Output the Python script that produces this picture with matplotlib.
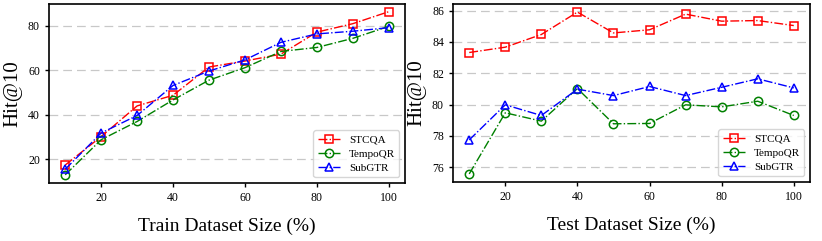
import numpy as np
import matplotlib.pyplot as plt

plt.rcParams['font.family'] = ['Liberation Serif', 'DejaVu Serif']

sizes = [10, 20, 30, 40, 50, 60, 70, 80, 90, 100]

# train dataset size experiment
train_stcqa = [17.4, 30.2, 44.0, 48.8, 61.5, 64.2, 67.3, 77.2, 81.0, 86.4]
train_tempoqr = [13.0, 28.8, 37.0, 46.7, 55.6, 61.2, 68.5, 70.3, 74.4, 79.8]
train_subgtr = [15.5, 31.8, 39.7, 53.2, 59.7, 64.7, 72.6, 76.4, 77.6, 79.2]

# test dataset size experiment
test_stcqa = [83.32, 83.66, 84.47, 85.90, 84.57, 84.77, 85.77, 85.32, 85.36, 85.04]
test_tempoqr = [75.57, 79.47, 78.94, 81.02, 78.77, 78.79, 79.98, 79.85, 80.21, 79.30]
test_subgtr = [77.74, 79.98, 79.30, 80.98, 80.57, 81.15, 80.57, 81.10, 81.64, 81.06]

W, H = 822, 241
fig = plt.figure(figsize=(W / 100, H / 100), dpi=100)
ax1 = fig.add_axes([49 / W, 1 - 183 / H, 356 / W, 179.5 / H])
ax2 = fig.add_axes([453 / W, 1 - 182 / H, 357 / W, 178 / H])

def draw(ax, s, t, g, xlabel):
    kw = dict(linestyle='-.', mfc='none', markersize=6, linewidth=1, markeredgewidth=1.1)
    ax.plot(sizes, s, color='red', marker='s', label='STCQA', **kw)
    ax.plot(sizes, t, color='green', marker='o', label='TempoQR', **kw)
    ax.plot(sizes, g, color='blue', marker='^', label='SubGTR', **kw)
    ax.grid(axis='y', color='#c8c8c8', linewidth=0.9, dashes=(7, 4))
    ax.set_axisbelow(True)
    ax.set_xticks([20, 40, 60, 80, 100])
    ax.tick_params(labelsize=8.5, length=3, width=1)
    ax.set_xlabel(xlabel, fontsize=14, labelpad=10)
    ax.set_ylabel('Hit@10', fontsize=15, labelpad=4)
    for sp in ax.spines.values():
        sp.set_linewidth(1.2)
    ax.legend(loc='lower right', fontsize=8, labelspacing=0.4)

draw(ax1, train_stcqa, train_tempoqr, train_subgtr, 'Train Dataset Size (%)')
draw(ax2, test_stcqa, test_tempoqr, test_subgtr, 'Test Dataset Size (%)')

fig.savefig('out.png', dpi=100)
